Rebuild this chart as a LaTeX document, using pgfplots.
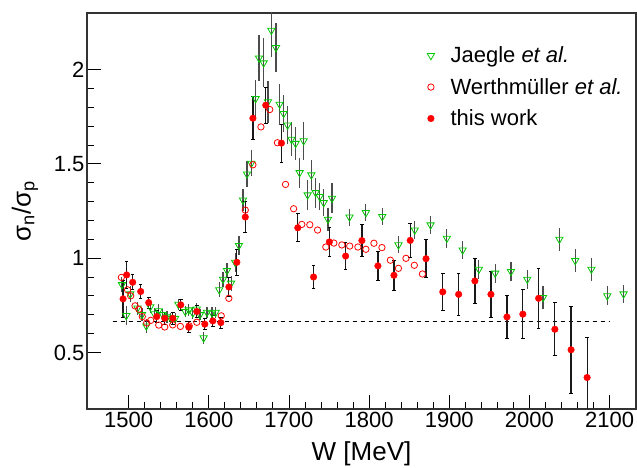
\documentclass[border=0pt]{standalone}
\usepackage{fontspec}
\setmainfont{Liberation Sans}
\usepackage{pgfplots}
\pgfplotsset{compat=1.18}
\definecolor{jgreen}{RGB}{0,200,0}
\definecolor{wred}{RGB}{255,0,0}

\pgfplotstableread{
W v e
1491.6 0.859 0.04
1497.0 0.695 0.05
1502.0 0.810 0.04
1511.0 0.735 0.035
1516.6 0.700 0.035
1522.0 0.640 0.035
1527.0 0.742 0.035
1532.0 0.705 0.03
1537.4 0.721 0.035
1542.5 0.700 0.03
1547.8 0.688 0.03
1552.5 0.680 0.03
1558.0 0.680 0.03
1562.0 0.755 0.03
1570.6 0.717 0.03
1575.0 0.725 0.03
1580.0 0.709 0.03
1585.0 0.730 0.03
1589.0 0.700 0.03
1593.5 0.577 0.03
1597.7 0.712 0.03
1604.0 0.709 0.03
1608.5 0.712 0.03
1613.0 0.832 0.04
1617.7 0.888 0.04
1622.7 0.934 0.04
1627.8 0.867 0.04
1632.8 0.978 0.05
1637.6 1.067 0.05
1642.6 1.308 0.06
1647.6 1.446 0.07
1653.0 1.503 0.07
1658.4 1.846 0.10
1662.6 2.061 0.12
1668.4 2.035 0.13
1673.8 1.829 0.11
1678.0 2.208 0.14
1683.8 2.116 0.13
1688.3 1.816 0.11
1693.3 1.767 0.10
1698.3 1.705 0.10
1703.0 1.630 0.09
1708.3 1.608 0.09
1713.3 1.453 0.08
1718.3 1.622 0.10
1723.3 1.335 0.08
1727.9 1.441 0.08
1733.3 1.347 0.08
1738.3 1.326 0.07
1743.3 1.294 0.07
1748.7 1.206 0.06
1753.7 1.317 0.08
1775.5 1.218 0.045
1796.0 1.241 0.045
1816.4 1.220 0.045
1836.6 1.070 0.045
1857.0 1.149 0.05
1876.7 1.176 0.05
1897.0 1.105 0.05
1916.7 1.043 0.05
1937.0 0.941 0.05
1957.3 0.920 0.05
1977.0 0.929 0.05
1997.3 0.888 0.05
2017.0 0.791 0.06
2037.4 1.100 0.06
2057.2 0.987 0.06
2077.4 0.941 0.06
2097.2 0.800 0.05
2117.5 0.810 0.05
}\jaegle

\pgfplotstableread{
W v
1490.9 0.898
1498.6 0.832
1502.5 0.800
1508.0 0.747
1512.7 0.729
1517.0 0.690
1522.5 0.656
1527.5 0.670
1537.5 0.645
1545.0 0.635
1555.0 0.646
1564.5 0.638
1575.5 0.641
1585.0 0.660
1615.5 0.694
1625.0 0.787
1645.5 1.255
1655.0 1.495
1665.0 1.696
1676.0 1.788
1685.6 1.612
1695.7 1.391
1705.8 1.262
1716.0 1.179
1726.0 1.177
1735.7 1.149
1746.0 1.059
1756.0 1.080
1766.0 1.070
1775.8 1.064
1786.0 1.059
1796.0 1.047
1806.0 1.079
1816.0 1.056
1826.5 0.989
1836.6 0.946
1846.0 0.999
1856.4 0.962
1866.5 0.916
}\werth

\pgfplotstableread{
W v e
1493.0 0.784 0.10
1497.5 0.911 0.07
1505.0 0.872 0.04
1515.0 0.823 0.035
1525.0 0.764 0.03
1535.0 0.690 0.03
1545.0 0.681 0.03
1555.0 0.681 0.03
1565.0 0.752 0.03
1575.0 0.634 0.03
1585.0 0.717 0.03
1595.0 0.650 0.03
1605.0 0.667 0.03
1615.0 0.658 0.03
1625.0 0.847 0.05
1635.0 0.978 0.07
1645.5 1.218 0.08
1655.0 1.742 0.115
1671.0 1.811 0.095
1690.6 1.610 0.10
1711.0 1.161 0.075
1730.7 0.900 0.06
1750.4 1.086 0.075
1770.7 1.011 0.07
1791.0 1.093 0.085
1811.0 0.959 0.075
1831.0 0.909 0.08
1851.3 1.094 0.09
1871.0 0.997 0.10
1891.9 0.821 0.10
1911.7 0.808 0.11
1932.0 0.879 0.12
1952.0 0.808 0.12
1972.0 0.688 0.115
1991.8 0.703 0.13
2011.5 0.787 0.16
2031.8 0.623 0.14
2052.0 0.514 0.23
2072.0 0.367 0.215
}\thiswork

\begin{document}
\begin{tikzpicture}
\begin{axis}[
  at={(0,0)}, anchor=south west,
  scale only axis, width=549pt, height=396pt,
  xmin=1448, xmax=2133, ymin=0.2, ymax=2.3,
  xtick={1500,1600,...,2100}, minor x tick num=4,
  ytick={0.5,1,1.5,2}, yticklabels={0.5,1,1.5,2}, minor y tick num=4,
  tick pos=left, tick align=inside,
  major tick length=14pt, minor tick length=7pt,
  every tick/.style={black, line width=0.9pt},
  axis line style={black!80, line width=1.1pt},
  /pgf/number format/assume math mode=true,
  /pgf/number format/1000 sep={},
  tick label style={font=\fontsize{22}{22}\selectfont},
  xticklabel style={yshift=0pt},
  yticklabel style={xshift=1pt},
  xlabel={W [MeV]},
  ylabel={σ\textsubscript{n}/σ\textsubscript{p}},
  label style={font=\fontsize{26}{26}\selectfont},
  xlabel style={at={(axis description cs:0.5,-0.114)}, anchor=center},
  ylabel style={at={(axis description cs:-0.113,0.5)}, anchor=center},
  legend style={at={(axis description cs:0.614,0.925)}, anchor=north west,
    draw=none, fill=none, font=\fontsize{22}{22}\selectfont,
    row sep=10pt, legend cell align=left,
    /tikz/every odd column/.append style={column sep=14pt}},
  clip=true,
]
\addplot[forget plot, black, line width=0.9pt, dash pattern=on 4.5pt off 3.5pt]
  coordinates {(1480,0.6667) (2100,0.6667)};
\addplot[only marks, mark=triangle, mark size=4.2pt,
  mark options={rotate=180, draw=jgreen, fill=none, line width=0.8pt},
  error bars/.cd, y dir=both, y explicit, error mark=none,
  error bar style={gray!60!black, line width=1.1pt}]
  table[x=W, y=v, y error=e] {\jaegle};
\addlegendentry{Jaegle \textit{et al.}}
\addplot[only marks, mark=o, mark size=3.2pt,
  mark options={draw=wred, line width=0.8pt}]
  table[x=W, y=v] {\werth};
\addlegendentry{Werthmüller \textit{et al.}}
\addplot[only marks, mark=*, mark size=3.3pt,
  mark options={draw=wred, fill=wred},
  error bars/.cd, y dir=both, y explicit,
  error bar style={black!90, line width=1.2pt},
  error mark options={rotate=90, black, mark size=1.8pt, line width=0.9pt}]
  table[x=W, y=v, y error=e] {\thiswork};
\addlegendentry{this work}
\end{axis}
\pgfresetboundingbox
\path[use as bounding box] (-87pt,-59pt) rectangle (550pt,409pt);
\end{tikzpicture}
\end{document}
